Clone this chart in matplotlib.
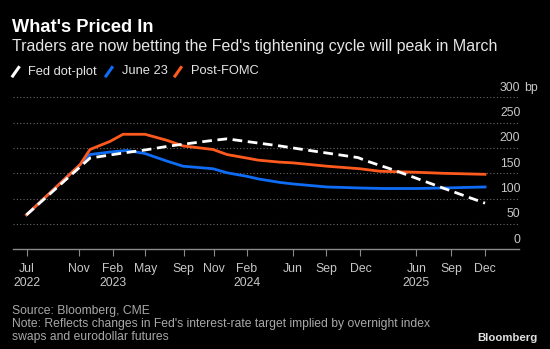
import matplotlib
matplotlib.use("Agg")
import matplotlib.pyplot as plt
from matplotlib.lines import Line2D

# ---- data ----
tick_labels = ["Jul\n2022", "Nov", "Feb\n2023", "May", "Sep", "Nov", "Feb\n2024",
               "Jun", "Sep", "Dec", "Jun\n2025", "Sep", "Dec"]
tick_pos = [0, 4.67, 7.74, 10.64, 14.06, 16.77, 19.74, 23.86, 26.84, 29.89, 34.91, 37.99, 41.05]

dot_x = [0, 5.68, 8.64, 10.61, 12.85, 16.70, 17.95, 20.64, 22.68, 25.65, 29.68, 30.49, 32.81, 37.65, 41.05]
dot_y = [68, 180, 190, 196, 204, 215, 218, 210, 204, 194, 181, 174, 157, 118, 91]

june_x = [0, 4.79, 5.68, 7.48, 9.00, 10.61, 12.58, 14.01, 16.70, 17.95, 19.74, 20.73, 22.68,
          23.84, 26.89, 29.84, 31.91, 34.96, 37.29, 41.05]
june_y = [68, 167, 187, 192, 195, 189, 174, 164, 159, 151, 144, 139, 132,
          129, 123, 121, 120, 120, 121, 123]

post_x = [0, 4.79, 5.68, 7.48, 8.64, 10.61, 12.58, 14.01, 16.70, 17.95, 19.74, 20.73, 22.68,
          23.84, 26.89, 29.84, 31.64, 34.96, 37.29, 41.05]
post_y = [68, 167, 197, 213, 227, 227, 215, 204, 197, 187, 180, 176, 172,
          170.6, 164, 159, 154, 152, 150, 148]

y_ticks = [0, 50, 100, 150, 200, 250, 300]

# ---- style ----
BG = "black"
WHITE = "#ffffff"
BLUE = "#0f6cf5"
ORANGE = "#ff5a1e"
GRID = "#6a6a6a"
TXT = "#c8c8c8"
FONT = ["Liberation Sans", "DejaVu Sans"]
plt.rcParams["font.family"] = FONT

W, H = 550, 349
fig = plt.figure(figsize=(5.5, 3.49), dpi=100, facecolor=BG)
renderer = fig.canvas.get_renderer()


def fx(px):
    return px / W


def fy(py):
    return 1 - py / H


def fit(t, width_px):
    """scale a text's font size so that it spans width_px pixels"""
    w = t.get_window_extent(renderer).width
    t.set_fontsize(t.get_fontsize() * width_px / w)
    return t


ax = fig.add_axes([fx(13), fy(249.3), fx(519) - fx(13), fy(97.3) - fy(249.3)])
ax.set_facecolor(BG)
ax.set_xlim(-1.21, 44.09)
ax.set_ylim(0, 300)

for v in y_ticks[1:]:
    ax.axhline(v, color=GRID, lw=0.8, ls=(0, (1, 2)), zorder=1)
for s in ["top", "right", "left"]:
    ax.spines[s].set_visible(False)
ax.spines["bottom"].set_color("#8a8a8a")
ax.spines["bottom"].set_linewidth(1.0)

ax.set_yticks([])
ax.set_xticks(tick_pos)
ax.set_xticklabels(tick_labels, color=TXT, fontsize=8.8, linespacing=1.2)
ax.tick_params(axis="x", colors="#8a8a8a", length=5, width=0.8, pad=5, labelcolor=TXT)

for v in y_ticks:
    ax.annotate(str(v), xy=(1, v), xycoords=("axes fraction", "data"),
                xytext=(1, 2.5), textcoords="offset points", ha="right", va="bottom",
                color=TXT, fontsize=8.8)
ax.annotate("bp", xy=(1, 300), xycoords=("axes fraction", "data"),
            xytext=(4, 2.5), textcoords="offset points", ha="left", va="bottom",
            color=TXT, fontsize=8.8)

ax.plot(june_x, june_y, color=BLUE, lw=2.0, zorder=3, solid_joinstyle="round")
ax.plot(post_x, post_y, color=ORANGE, lw=2.0, zorder=4, solid_joinstyle="round")
ax.plot(dot_x, dot_y, color=WHITE, lw=2.0, ls=(0, (3.5, 2)), zorder=5)

# ---- titles ----
fit(fig.text(fx(12), fy(27.5), "What's Priced In", color=WHITE, fontsize=12,
             fontweight="bold", va="center", ha="left"), 141)
fit(fig.text(fx(12), fy(46), "Traders are now betting the Fed's tightening cycle will peak in March",
             color="#e6e6e6", fontsize=12, va="center", ha="left"), 485)

# ---- legend ----
leg = [("Fed dot-plot", WHITE, 12.7, 28), ("June 23", BLUE, 106, 122),
       ("Post-FOMC", ORANGE, 175, 191)]
leg_size = None
for label, col, sx, tx in leg:
    fig.add_artist(Line2D([fx(sx), fx(sx + 6)], [fy(76), fy(67.5)], color=col, lw=2.2,
                          transform=fig.transFigure))
    t = fig.text(fx(tx), fy(71.5), label, color="#e6e6e6", fontsize=10, va="center", ha="left")
    if leg_size is None:
        fit(t, 69)
        leg_size = t.get_fontsize()
    else:
        t.set_fontsize(leg_size)

# ---- footer ----
note = fit(fig.text(fx(12), fy(324), "Note: Reflects changes in Fed's interest-rate target implied by overnight index",
                    color="#a8a8a8", fontsize=8.5, va="center", ha="left"), 416)
fs = note.get_fontsize()
fig.text(fx(12), fy(311), "Source: Bloomberg, CME", color="#a8a8a8", fontsize=fs,
         va="center", ha="left")
fig.text(fx(12), fy(337), "swaps and eurodollar futures",
         color="#a8a8a8", fontsize=fs, va="center", ha="left")
fit(fig.text(fx(538), fy(338), "Bloomberg", color="#e0e0e0", fontsize=8.5, fontweight="bold",
             va="center", ha="right"), 60)

fig.savefig("out.png", dpi=100, facecolor=BG)
